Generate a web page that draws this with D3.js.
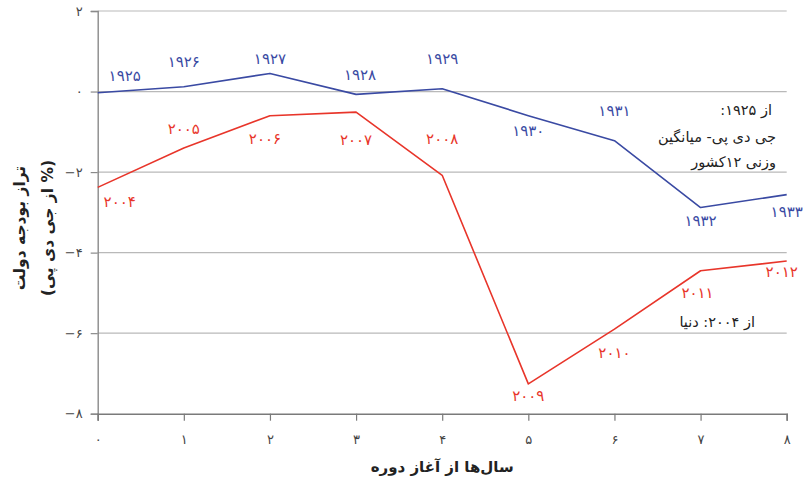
<!DOCTYPE html>
<html>
<head>
<meta charset="utf-8">
<script src="https://cdn.jsdelivr.net/npm/d3@7"></script>
<style>
  body { margin: 0; background: #fff; }
  text { font-family: "DejaVu Sans", sans-serif; }
</style>
</head>
<body>
<div id="chart"></div>
<script>
// years since start of period
var periods = [0, 1, 2, 3, 4, 5, 6, 7, 8];
var xTickLabels = ["۰", "۱", "۲", "۳", "۴", "۵", "۶", "۷", "۸"];
var yTicks = [2, 0, -2, -4, -6, -8];
var yTickLabels = ["۲", "۰", "−۲", "−۴", "−۶", "−۸"];

// 1925-1933, GDP-weighted average of 12 countries
var yearsA = ["۱۹۲۵", "۱۹۲۶", "۱۹۲۷", "۱۹۲۸", "۱۹۲۹", "۱۹۳۰", "۱۹۳۱", "۱۹۳۲", "۱۹۳۳"];
var balanceA = [-0.03, 0.12, 0.45, -0.07, 0.07, -0.6, -1.22, -2.88, -2.56];

// 2004-2012, world
var yearsB = ["۲۰۰۴", "۲۰۰۵", "۲۰۰۶", "۲۰۰۷", "۲۰۰۸", "۲۰۰۹", "۲۰۱۰", "۲۰۱۱", "۲۰۱۲"];
var balanceB = [-2.38, -1.4, -0.6, -0.51, -2.08, -7.26, -5.9, -4.45, -4.21];

// label offsets in px from each point
var offsetsA = [[27, -16], [0, -24], [0, -14], [4, -19], [0, -29], [0, 16], [0, -29], [0, 14], [0, 18]];
var offsetsB = [[22, 15], [0, -18], [-5, 24], [0, 28], [0, -36], [0, 13], [0, 24], [-3, 23], [-5, 11]];

var width = 809, height = 495;
var svg = d3.select("#chart").append("svg")
    .attr("width", width)
    .attr("height", height);

var xScale = d3.scaleLinear().domain([0, 8]).range([97.7, 786.7]);
var yScale = d3.scaleLinear().domain([-8, 2]).range([413.7, 11]);

// gridlines
svg.append("g")
    .selectAll("line")
    .data(yTicks.filter(function (d) { return d > -8; }))
    .enter().append("line")
    .attr("x1", xScale(0))
    .attr("x2", xScale(8))
    .attr("y1", function (d) { return yScale(d); })
    .attr("y2", function (d) { return yScale(d); })
    .attr("stroke", "#b9b9b9")
    .attr("stroke-width", 1.2);

// Y axis
var yAxis = svg.append("g")
    .attr("transform", "translate(" + xScale(0) + ",0)")
    .call(d3.axisLeft(yScale).tickValues(yTicks).tickSize(7).tickPadding(8)
        .tickFormat(function (d) { return yTickLabels[yTicks.indexOf(d)]; }));
yAxis.select(".domain").attr("stroke", "#8a8a8a").attr("stroke-width", 1.4);
yAxis.selectAll(".tick line").attr("stroke", "#8a8a8a").attr("stroke-width", 1.2);
yAxis.selectAll("text").attr("fill", "#444").style("font-size", "13px").style("direction", "ltr");

// X axis
var xAxis = svg.append("g")
    .attr("transform", "translate(0," + yScale(-8) + ")")
    .call(d3.axisBottom(xScale).tickValues(periods).tickSize(7).tickPadding(14)
        .tickFormat(function (d) { return xTickLabels[d]; }));
xAxis.select(".domain").attr("stroke", "#7a7a7a").attr("stroke-width", 1.6);
xAxis.selectAll(".tick line").attr("stroke", "#7a7a7a").attr("stroke-width", 1.2);
xAxis.selectAll("text").attr("fill", "#444").style("font-size", "13px");

var line = d3.line()
    .x(function (d, i) { return xScale(periods[i]); })
    .y(function (d) { return yScale(d); });

svg.append("path")
    .datum(balanceA)
    .attr("fill", "none")
    .attr("stroke", "#3a4aa3")
    .attr("stroke-width", 1.6)
    .attr("stroke-linejoin", "round")
    .attr("d", line);

svg.append("path")
    .datum(balanceB)
    .attr("fill", "none")
    .attr("stroke", "#e8352a")
    .attr("stroke-width", 1.6)
    .attr("stroke-linejoin", "round")
    .attr("d", line);

function pointLabels(values, labels, offsets, color) {
    svg.append("g")
        .selectAll("text")
        .data(values)
        .enter().append("text")
        .attr("x", function (d, i) { return xScale(periods[i]) + offsets[i][0]; })
        .attr("y", function (d, i) { return yScale(d) + offsets[i][1]; })
        .attr("text-anchor", "middle")
        .attr("dominant-baseline", "middle")
        .attr("fill", color)
        .style("font-size", "15px")
        .text(function (d, i) { return labels[i]; });
}
pointLabels(balanceA, yearsA, offsetsA, "#3a4aa3");
pointLabels(balanceB, yearsB, offsetsB, "#e8352a");

// series notes
var notes = [
    { t: "از ۱۹۲۵:", x: 772, y: 111 },
    { t: "جی دی پی- میانگین", x: 776, y: 138 },
    { t: "وزنی ۱۲کشور", x: 776, y: 163 },
    { t: "از ۲۰۰۴: دنیا", x: 755, y: 323 }
];
svg.append("g")
    .selectAll("text")
    .data(notes)
    .enter().append("text")
    .attr("x", function (d) { return d.x; })
    .attr("y", function (d) { return d.y; })
    .attr("direction", "rtl")
    .attr("text-anchor", "start")
    .attr("dominant-baseline", "middle")
    .attr("fill", "#222")
    .style("font-size", "14.5px")
    .text(function (d) { return d.t; });

// axis titles
svg.append("text")
    .attr("x", xScale(4))
    .attr("y", 467)
    .attr("text-anchor", "middle")
    .attr("dominant-baseline", "middle")
    .attr("direction", "rtl")
    .attr("fill", "#222")
    .style("font-size", "15px")
    .style("font-weight", "bold")
    .text("سال‌ها از آغاز دوره");

svg.append("text")
    .attr("transform", "translate(20,228) rotate(-90)")
    .attr("text-anchor", "middle")
    .attr("dominant-baseline", "middle")
    .attr("direction", "rtl")
    .attr("fill", "#222")
    .style("font-size", "15.5px")
    .style("font-weight", "bold")
    .text("تراز بودجه دولت");

svg.append("text")
    .attr("transform", "translate(48,228) rotate(-90)")
    .attr("text-anchor", "middle")
    .attr("dominant-baseline", "middle")
    .attr("direction", "rtl")
    .attr("fill", "#222")
    .style("font-size", "15.5px")
    .style("font-weight", "bold")
    .text("(% از جی دی پی)");
</script>
</body>
</html>
